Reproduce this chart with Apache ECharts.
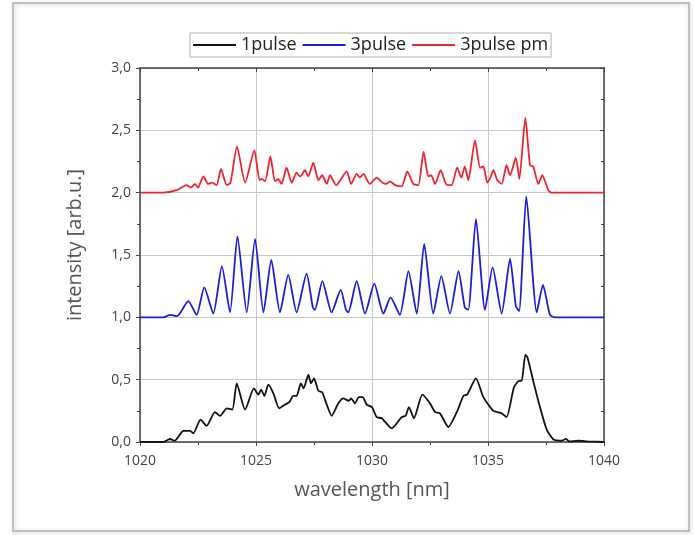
<!DOCTYPE html>
<html>
<head>
<meta charset="utf-8">
<script src="https://cdn.jsdelivr.net/npm/echarts@6/dist/echarts.min.js"></script>
<style>
  html, body { margin: 0; padding: 0; background: #fff; }
  #main { width: 694px; height: 535px; }
</style>
</head>
<body>
<div id="main"></div>
<script>
// wavelength [nm] / intensity [arb.u.]
const wl1 = [1020, 1021.0, 1021.29, 1021.5, 1021.87, 1022.16, 1022.3, 1022.61, 1022.87, 1023.23, 1023.45, 1023.74, 1023.98, 1024.17, 1024.53, 1024.91, 1025.1, 1025.22, 1025.36, 1025.53, 1025.75, 1026.0, 1026.25, 1026.44, 1026.61, 1026.75, 1026.93, 1027.05, 1027.26, 1027.37, 1027.5, 1027.69, 1027.85, 1028.05, 1028.26, 1028.55, 1028.76, 1029.0, 1029.1, 1029.27, 1029.43, 1029.6, 1029.77, 1030.0, 1030.2, 1030.42, 1030.85, 1031.28, 1031.45, 1031.59, 1031.81, 1032.17, 1032.5, 1032.72, 1032.93, 1033.29, 1033.68, 1033.94, 1034.1, 1034.48, 1034.8, 1035.23, 1035.59, 1035.8, 1036.12, 1036.34, 1036.45, 1036.61, 1036.7, 1036.95, 1037.24, 1037.53, 1037.82, 1038.18, 1038.36, 1038.5, 1038.9, 1039.3, 1040]
const int1 = [0, 0, 0.024, 0.01, 0.09, 0.09, 0.07, 0.18, 0.13, 0.24, 0.21, 0.27, 0.26, 0.47, 0.26, 0.43, 0.38, 0.42, 0.37, 0.46, 0.39, 0.27, 0.30, 0.32, 0.37, 0.37, 0.47, 0.43, 0.54, 0.47, 0.51, 0.41, 0.40, 0.30, 0.21, 0.31, 0.35, 0.33, 0.35, 0.31, 0.36, 0.36, 0.30, 0.28, 0.20, 0.19, 0.11, 0.20, 0.21, 0.28, 0.19, 0.38, 0.31, 0.24, 0.23, 0.12, 0.25, 0.37, 0.38, 0.51, 0.36, 0.25, 0.23, 0.20, 0.44, 0.49, 0.49, 0.70, 0.68, 0.49, 0.28, 0.10, 0.02, 0.01, 0.025, 0.005, 0.01, 0.005, 0]

const wl3 = [1020, 1021.0, 1021.3, 1021.6, 1022.08, 1022.44, 1022.77, 1023.16, 1023.53, 1023.88, 1024.2, 1024.6, 1024.96, 1025.32, 1025.66, 1026.03, 1026.39, 1026.75, 1027.18, 1027.45, 1027.54, 1027.86, 1028.26, 1028.65, 1028.88, 1028.98, 1029.34, 1029.7, 1030.1, 1030.49, 1030.8, 1031.2, 1031.57, 1031.93, 1032.25, 1032.64, 1032.99, 1033.36, 1033.73, 1034.0, 1034.15, 1034.48, 1034.87, 1035.2, 1035.59, 1035.95, 1036.2, 1036.34, 1036.65, 1037.1, 1037.37, 1037.67, 1037.9, 1040]
const int3 = [1.0, 1.0, 1.02, 1.01, 1.13, 1.02, 1.24, 1.03, 1.41, 1.04, 1.65, 1.04, 1.63, 1.04, 1.46, 1.04, 1.34, 1.04, 1.35, 1.08, 1.06, 1.29, 1.04, 1.22, 1.06, 1.04, 1.29, 1.03, 1.27, 1.03, 1.16, 1.02, 1.37, 1.03, 1.59, 1.03, 1.33, 1.03, 1.37, 1.08, 1.06, 1.79, 1.06, 1.40, 1.03, 1.47, 1.09, 1.05, 1.97, 1.04, 1.26, 1.02, 1.0, 1.0]

const wlPm = [1020, 1021.0, 1021.58, 1022.01, 1022.2, 1022.37, 1022.5, 1022.73, 1022.94, 1023.1, 1023.3, 1023.49, 1023.74, 1023.9, 1024.18, 1024.53, 1024.93, 1025.15, 1025.25, 1025.39, 1025.62, 1025.82, 1025.95, 1026.1, 1026.32, 1026.54, 1026.75, 1026.9, 1027.11, 1027.25, 1027.47, 1027.69, 1027.85, 1028.05, 1028.19, 1028.45, 1028.91, 1029.1, 1029.34, 1029.48, 1029.63, 1029.91, 1030.2, 1030.45, 1030.6, 1030.78, 1031.0, 1031.28, 1031.52, 1031.78, 1032.0, 1032.22, 1032.43, 1032.55, 1032.72, 1032.96, 1033.19, 1033.43, 1033.67, 1033.85, 1034.0, 1034.15, 1034.44, 1034.66, 1034.8, 1034.97, 1035.1, 1035.23, 1035.4, 1035.59, 1035.8, 1035.95, 1036.2, 1036.35, 1036.61, 1036.81, 1036.95, 1037.17, 1037.34, 1037.6, 1037.74, 1040]
const intPm = [2.0, 2.0, 2.02, 2.06, 2.04, 2.07, 2.04, 2.13, 2.07, 2.08, 2.06, 2.19, 2.06, 2.08, 2.37, 2.08, 2.34, 2.10, 2.11, 2.09, 2.29, 2.09, 2.11, 2.07, 2.20, 2.08, 2.16, 2.13, 2.18, 2.13, 2.24, 2.10, 2.14, 2.07, 2.14, 2.06, 2.17, 2.07, 2.15, 2.12, 2.15, 2.07, 2.12, 2.08, 2.07, 2.09, 2.06, 2.05, 2.17, 2.07, 2.06, 2.33, 2.13, 2.14, 2.07, 2.18, 2.07, 2.06, 2.20, 2.12, 2.21, 2.10, 2.42, 2.20, 2.21, 2.08, 2.12, 2.18, 2.10, 2.07, 2.22, 2.14, 2.28, 2.11, 2.60, 2.22, 2.21, 2.07, 2.14, 2.02, 2.0, 2.0]

const seriesNames = ['1pulse', '3pulse', '3pulse pm']
const seriesColors = ['#111111', '#1c1cdc', '#ec2630']

function zip(xs, ys) {
  return xs.map((x, i) => [x, ys[i]])
}

const chart = echarts.init(document.getElementById('main'))

const axisCol = '#444'
const font = 'Open Sans'

chart.setOption({
  animation: false,
  backgroundColor: '#fff',
  graphic: [{
    type: 'rect',
    shape: { x: 13, y: 3, width: 676, height: 528 },
    style: { fill: 'none', stroke: '#b0b0b0', lineWidth: 1.5, shadowBlur: 4, shadowColor: 'rgba(0,0,0,0.25)', shadowOffsetX: 1, shadowOffsetY: 1 },
    z: -1
  }],
  legend: {
    top: 33,
    left: 190,
    data: seriesNames,
    icon: 'rect',
    itemWidth: 43,
    itemHeight: 2,
    itemGap: 6,
    padding: [3, 3],
    borderColor: '#b0b0b0',
    borderWidth: 1,
    textStyle: { fontFamily: font, fontSize: 18, color: '#222' }
  },
  grid: { left: 140, top: 68, width: 464, height: 374 },
  xAxis: [{
    type: 'value',
    min: 1020,
    max: 1040,
    interval: 5,
    name: 'wavelength [nm]',
    nameLocation: 'middle',
    nameGap: 38,
    nameTextStyle: { fontFamily: font, fontSize: 20, color: '#555' },
    axisLine: { onZero: false, lineStyle: { color: axisCol, width: 1.5 } },
    axisTick: { inside: false, length: 4, lineStyle: { color: axisCol } },
    minorTick: { show: true, splitNumber: 2, length: 3, lineStyle: { color: axisCol } },
    axisLabel: { fontFamily: font, fontSize: 14, color: '#444', margin: 12, formatter: v => String(v) },
    splitLine: { show: true, lineStyle: { color: '#c8c8c8', width: 1 } }
  }, {
    type: 'value',
    position: 'top',
    min: 1020,
    max: 1040,
    interval: 5,
    axisLine: { onZero: false, lineStyle: { color: axisCol, width: 1.5 } },
    axisTick: { inside: true, length: 4, lineStyle: { color: axisCol } },
    minorTick: { show: true, splitNumber: 2, length: 3, lineStyle: { color: axisCol } },
    axisLabel: { show: false },
    splitLine: { show: false }
  }],
  yAxis: [{
    type: 'value',
    min: 0,
    max: 3,
    interval: 0.5,
    name: 'intensity [arb.u.]',
    nameLocation: 'middle',
    nameGap: 55,
    nameTextStyle: { fontFamily: font, fontSize: 20, color: '#555', padding: [0, 0, 0, 20] },
    axisLine: { show: true, onZero: false, lineStyle: { color: axisCol, width: 1.5 } },
    axisTick: { show: true, inside: false, length: 4, lineStyle: { color: axisCol } },
    minorTick: { show: true, splitNumber: 2, length: 3, lineStyle: { color: axisCol } },
    axisLabel: { fontFamily: font, fontSize: 14, color: '#444', margin: 9, formatter: v => v.toFixed(1).replace('.', ',') },
    splitLine: { show: true, lineStyle: { color: '#c8c8c8', width: 1 } }
  }, {
    type: 'value',
    position: 'right',
    min: 0,
    max: 3,
    interval: 0.5,
    axisLine: { show: true, onZero: false, lineStyle: { color: axisCol, width: 1.5 } },
    axisTick: { show: true, inside: true, length: 4, lineStyle: { color: axisCol } },
    minorTick: { show: true, splitNumber: 2, length: 3, lineStyle: { color: axisCol } },
    axisLabel: { show: false },
    splitLine: { show: false }
  }],
  series: [
    { name: seriesNames[0], type: 'line', data: zip(wl1, int1) },
    { name: seriesNames[1], type: 'line', data: zip(wl3, int3) },
    { name: seriesNames[2], type: 'line', data: zip(wlPm, intPm) }
  ].map((s, i) => Object.assign(s, {
    symbol: 'none',
    smooth: 0.2,
    color: seriesColors[i],
    lineStyle: { color: seriesColors[i], width: 1.8 }
  }))
})
</script>
</body>
</html>
